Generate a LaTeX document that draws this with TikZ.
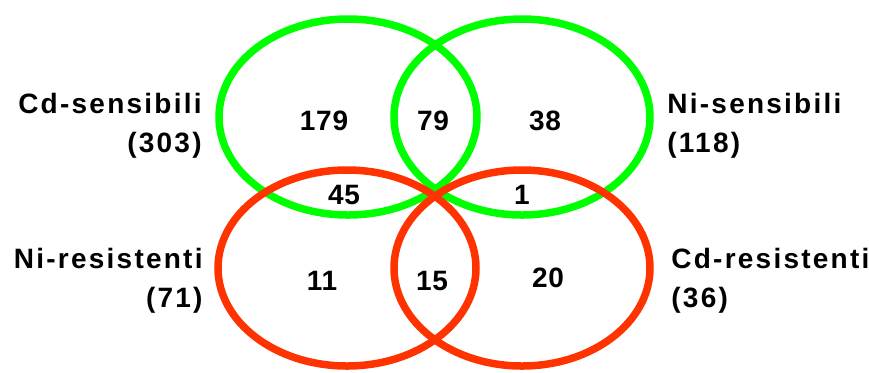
\documentclass[tikz,border=0pt]{standalone}
\usepackage{fontspec}
\setmainfont{Liberation Sans}
\newfontfamily\setfont{Liberation Sans}[LetterSpace=8]
\newfontfamily\numfont{Liberation Sans}[LetterSpace=3]
\usetikzlibrary{positioning}
\definecolor{sensgreen}{RGB}{0,255,0}
\definecolor{resred}{RGB}{255,51,0}

\begin{document}
\begin{tikzpicture}[x=0.5pt, y=-0.5pt, ring/.style={line width=3.75pt}, setname/.style={inner sep=0pt, font=\setfont\bfseries\fontsize{14}{19.5}\selectfont}, count/.style={inner sep=0pt, anchor=base, font=\numfont\bfseries\fontsize{14}{17}\selectfont}]
\useasboundingbox (0,0) rectangle (869,372);

% Sensitive sets
\draw[ring, sensgreen] (348,117) ellipse [x radius=129, y radius=98];
\draw[ring, sensgreen] (522,117) ellipse [x radius=128, y radius=98];
% Resistant sets
\draw[ring, resred] (347,268) ellipse [x radius=129, y radius=98];
\draw[ring, resred] (522,268) ellipse [x radius=128, y radius=98];

% Set names
\node (cdsens) at (202, 152) [setname, anchor=base east, align=right] {Cd-sensibili\\(303)};
\node (nisens) at (667, 152) [setname, anchor=base west, align=left] {Ni-sensibili\\(118)};
\node (nires) at (203, 307) [setname, anchor=base east, align=right] {Ni-resistenti\\(71)};
\node (cdres) at (671, 307) [setname, anchor=base west, align=left] {Cd-resistenti\\(36)};

% Counts
\node (n179) at (324, 130) [count] {179};
\node (n79) at (433, 130) [count] {79};
\node (n38) at (545, 130) [count] {38};
\node (n45) at (344, 204) [count] {45};
\node (n1) at (522, 204) [count] {1};
\node (n11) at (322, 290) [count] {11};
\node (n15) at (432, 290) [count] {15};
\node (n20) at (548, 287) [count] {20};
\end{tikzpicture}
\end{document}
